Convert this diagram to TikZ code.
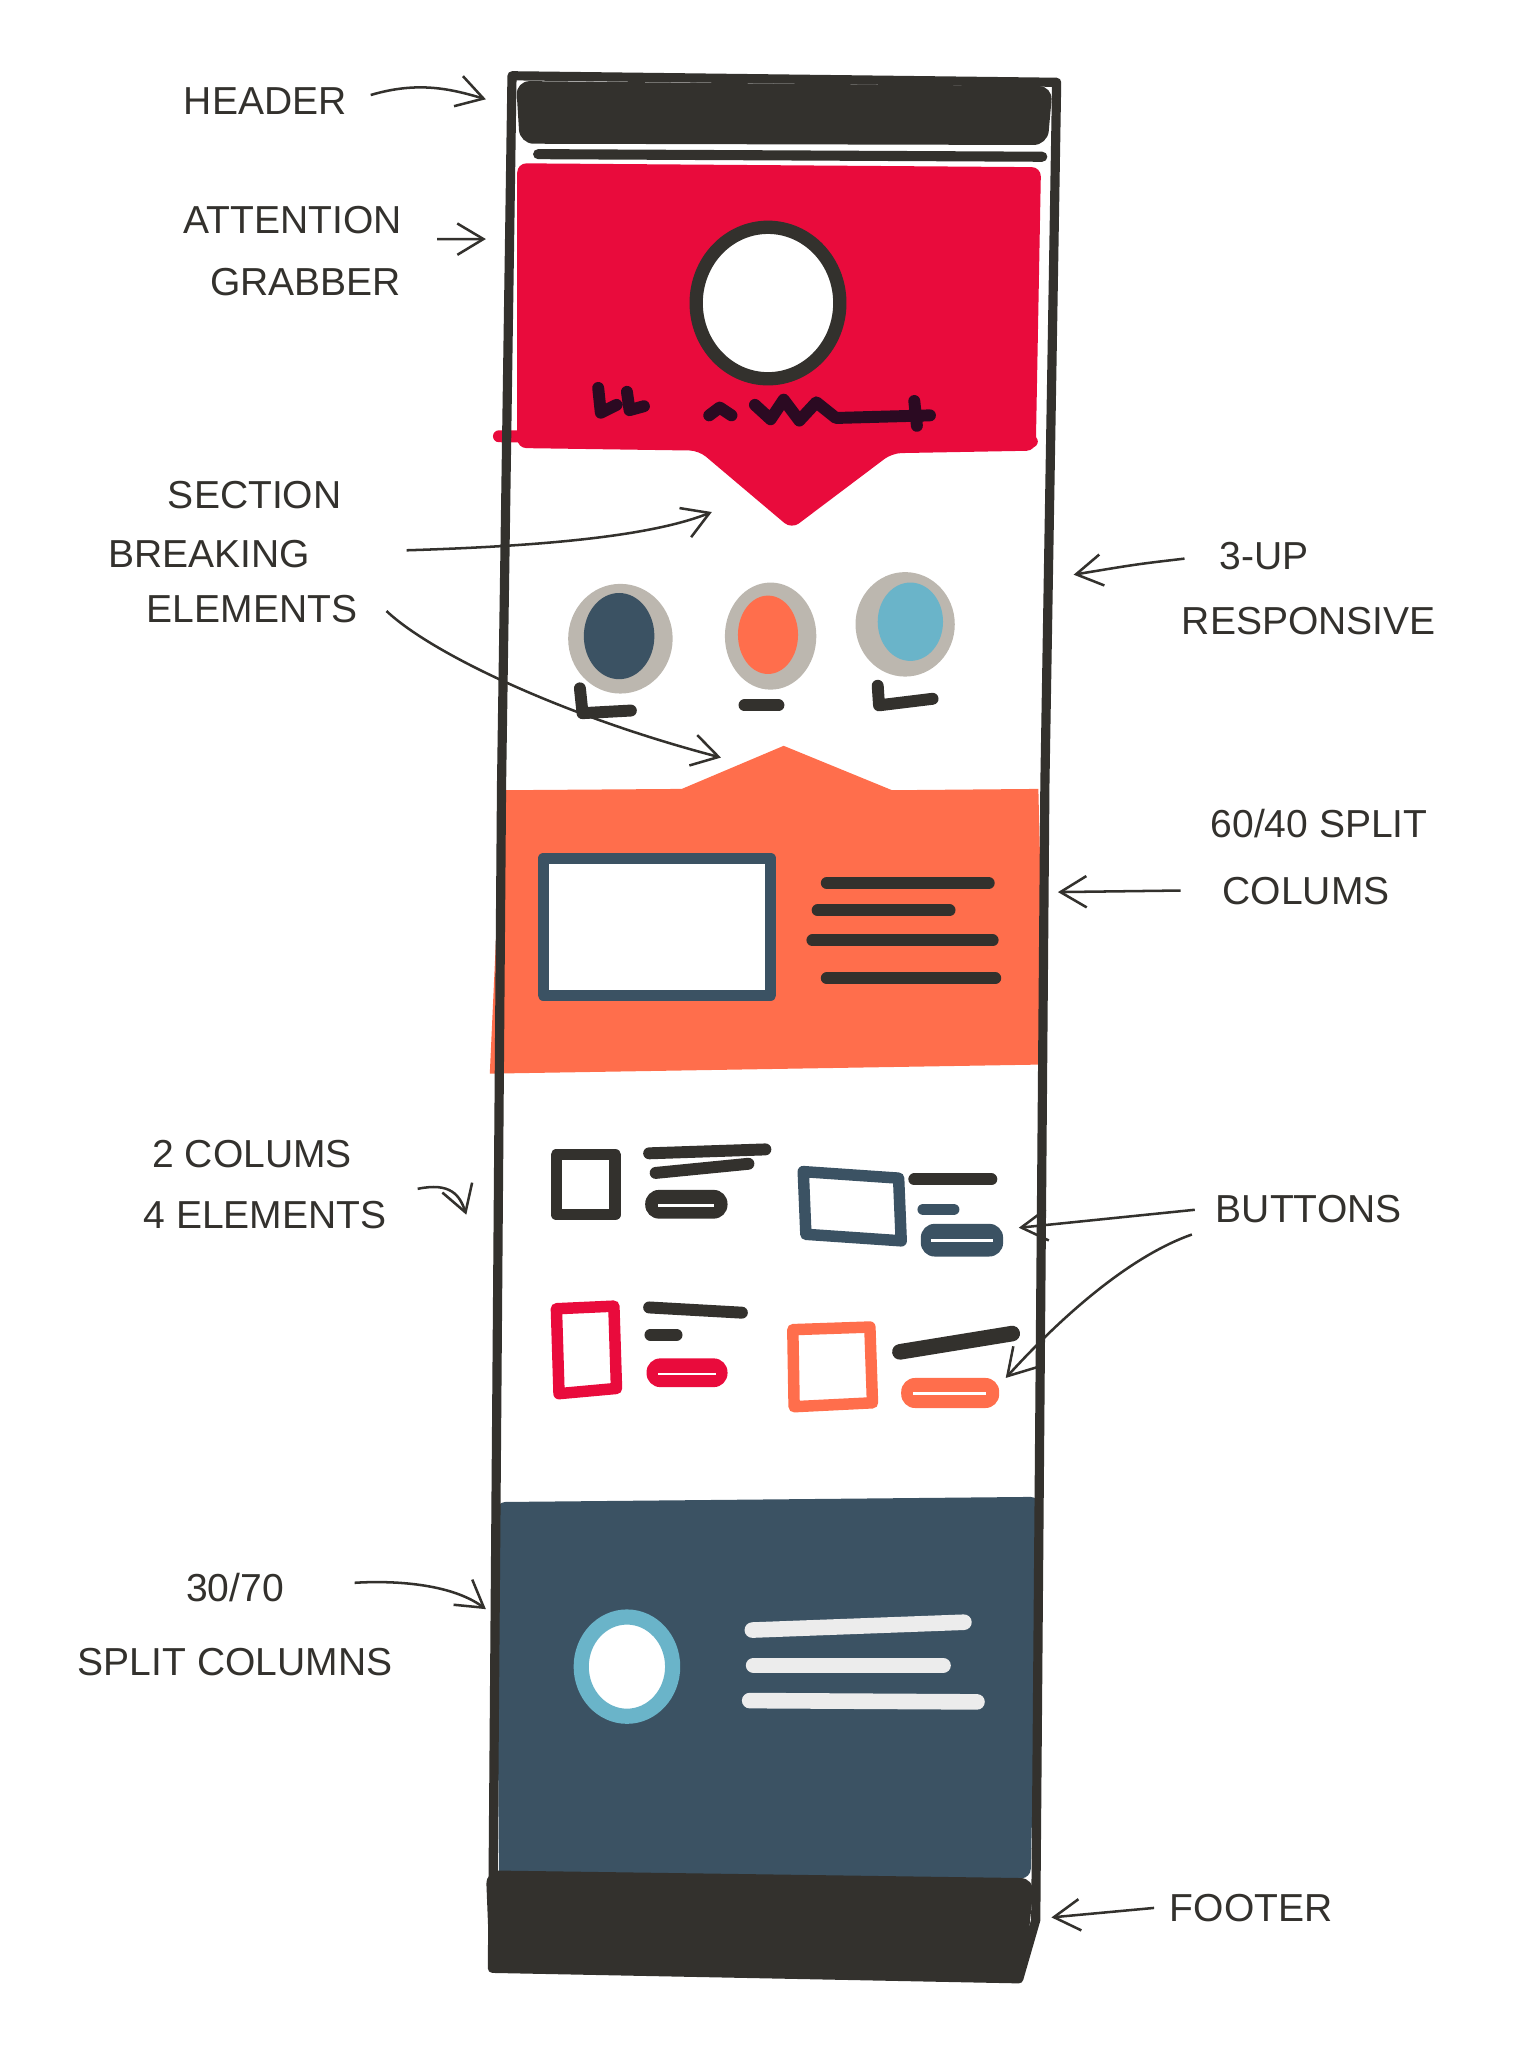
\documentclass[tikz,border=0pt]{standalone}
\usepackage{fontspec}
\setmainfont{Liberation Sans}
\usepackage{tikz}
\usetikzlibrary{positioning,arrows.meta}
\definecolor{cnegro}{HTML}{33312D}
\definecolor{crojo}{HTML}{E90B3C}
\definecolor{cnaranja}{HTML}{FF6E4C}
\definecolor{cazul}{HTML}{3B5263}
\definecolor{ccelest}{HTML}{6AB4C9}
\definecolor{cgris}{HTML}{BCB7AF}
\definecolor{cclaro}{HTML}{ECECEC}
\definecolor{cvino}{HTML}{2B0A22}
\tikzset{
  marco/.style={draw=cnegro, line width=2pt, line join=round, line cap=round},
  trazo/.style={line width=2.6pt, line cap=round, line join=round},
  caja/.style={line width=2.5pt, line join=round, fill=white},
  boton/.style={rounded corners=3pt},
  flecha/.style={-{Straight Barb[length=2mm,width=2.4mm]}, draw=cnegro, line width=0.55pt, shorten <=1.5mm},
  etq/.style={font=\fontsize{8.5}{10}\selectfont, text=cnegro, inner sep=1pt, text height=2.2mm, text depth=0mm},
}

\begin{document}
\begin{tikzpicture}[x=0.1mm, y=-0.1mm]
  \useasboundingbox (0,0) rectangle (1176,1568);

  % header y atencion
  \fill[cnegro, rounded corners=3pt] (395,62) -- (806,66) -- (802,111) -- (398,110) -- cycle;
  \draw[cnegro, line width=2.2pt, line cap=round] (412,118) -- (798,120);
  \fill[crojo, rounded corners=2pt] (396,125) -- (797,128) -- (793,345) -- (683,347) -- (606,405) -- (535,345) -- (396,343) -- cycle;
  \draw[crojo, line width=2.6pt, line cap=round] (382,334) -- (790,338);
  \draw[cnegro, caja, line width=2.9pt] (588,232) ellipse [x radius=55, y radius=58];
  \draw[cvino, trazo] (458,297) -- (460,316) -- (472,310) (480,300) -- (482,314) -- (493,311);
  \draw[cvino, trazo] (543,318) -- (551,312) -- (560,318);
  \draw[cvino, trazo] (578,310) -- (590,321) -- (600,306) -- (612,322) -- (625,308) -- (640,320) -- (712,318) (700,307) -- (702,326);

  % 3-up
  \fill[cgris] (475,489) ellipse [x radius=40, y radius=42];
  \fill[cazul] (474,487) ellipse [x radius=27, y radius=33];
  \fill[cgris] (590,487) ellipse [x radius=35, y radius=41];
  \fill[cnaranja] (588,486) ellipse [x radius=23, y radius=30];
  \fill[cgris] (693,478) ellipse [x radius=38, y radius=40];
  \fill[ccelest] (697,476) ellipse [x radius=25, y radius=30];
  \draw[cnegro, trazo] (444,527) -- (446,546) -- (483,544);
  \draw[cnegro, trazo] (570,540) -- (596,540);
  \draw[cnegro, trazo] (672,525) -- (673,540) -- (714,535);

  % 60/40
  \fill[cnaranja] (385,605) -- (522,604) -- (600,571) -- (683,605) -- (795,604) -- (800,815) -- (375,822) -- cycle;
  \draw[cazul, caja, line width=2.4pt] (416,657) rectangle (590,762);
  \draw[cnegro, trazo] (633,676) -- (757,676);
  \draw[cnegro, trazo] (626,697) -- (727,697);
  \draw[cnegro, trazo] (622,720) -- (760,720);
  \draw[cnegro, trazo] (633,749) -- (762,749);

  % 2 columnas
  \draw[cnegro, caja] (426,884) rectangle (471,930);
  \draw[cnegro, trazo] (497,883) -- (586,880);
  \draw[cnegro, trazo] (502,898) -- (573,891);
  \fill[cnegro, boton] (494,911) rectangle (557,933);
  \draw[white, line width=0.6pt] (504,923) -- (547,923);

  \draw[cazul, caja] (615,897) -- (688,902) -- (690,950) -- (617,945) -- cycle;
  \draw[cnegro, trazo] (700,903) -- (759,903);
  \draw[cazul, trazo] (707,926) -- (730,926);
  \fill[cazul, boton] (705,937) rectangle (768,962);
  \draw[white, line width=0.6pt] (713,950) -- (760,950);

  \draw[crojo, caja] (426,1002) -- (470,1000) -- (472,1063) -- (428,1067) -- cycle;
  \draw[cnegro, trazo] (497,1001) -- (568,1005);
  \draw[cnegro, trazo] (498,1022) -- (518,1022);
  \fill[crojo, boton] (495,1040) rectangle (557,1062);
  \draw[white, line width=0.6pt] (504,1052) -- (548,1052);

  \draw[cnaranja, caja] (607,1018) -- (666,1016) -- (668,1074) -- (608,1077) -- cycle;
  \draw[cnegro, trazo, line width=3.4pt] (689,1035) -- (775,1021);
  \fill[cnaranja, boton] (690,1055) rectangle (765,1078);
  \draw[white, line width=0.6pt] (699,1067) -- (755,1067);

  % 30/70
  \fill[cazul, rounded corners=2pt] (380,1150) -- (796,1146) -- (789,1438) -- (382,1440) -- cycle;
  \draw[ccelest, caja, line width=3.3pt] (480,1276) ellipse [x radius=35, y radius=38];
  \draw[cclaro, trazo, line width=3.4pt] (576,1248) -- (738,1242);
  \draw[cclaro, trazo, line width=3.4pt] (577,1275) -- (722,1275);
  \draw[cclaro, trazo, line width=3.4pt] (574,1302) -- (748,1303);

  % footer
  \fill[cnegro, rounded corners=3pt] (372,1432) -- (792,1438) -- (784,1515) -- (375,1508) -- cycle;

  \draw[marco] (392,58) -- (809,63) -- (800,600) -- (793,1470) -- (780,1515) -- (377,1507) -- (384,600) -- cycle;

  % etiquetas
  \node[etq] (header) at (203,77) {HEADER};
  \node[etq] (atencion) at (224,168) {ATTENTION};
  \node[etq, below=1.7mm of atencion, xshift=1mm] (grabber) {GRABBER};
  \node[etq] (seccion) at (195,378) {SECTION};
  \node[etq, below=1.5mm of seccion, xshift=-3.5mm] (breaking) {BREAKING};
  \node[etq, below=1.2mm of breaking, xshift=3.3mm] (elementos) {ELEMENTS};
  \node[etq] (tresup) at (968,425) {3-UP};
  \node[etq, below=1.9mm of tresup, xshift=3.4mm] (responsive) {RESPONSIVE};
  \node[etq] (split64) at (1010,630) {60/40 SPLIT};
  \node[etq, below=2.1mm of split64, xshift=-1mm] (colums) {COLUMS};
  \node[etq] (doscol) at (193,883) {2 COLUMS};
  \node[etq, below=1.6mm of doscol, xshift=1mm] (cuatro) {4 ELEMENTS};
  \node[etq] (botones) at (1002,925) {BUTTONS};
  \node[etq] (treinta) at (180,1215) {30/70};
  \node[etq, below=2.6mm of treinta] (splitcols) {SPLIT COLUMNS};
  \node[etq] (pie) at (958,1460) {FOOTER};

  \coordinate (pHeader) at (372,76);
  \coordinate (pRojo) at (372,183);
  \coordinate (pPico1) at (545,392);
  \coordinate (pPico2) at (552,580);
  \coordinate (pTres) at (822,440);
  \coordinate (pNaranja) at (810,683);
  \coordinate (pCols) at (357,930);
  \coordinate (pBoton1) at (780,940);
  \coordinate (pBoton2) at (770,1055);
  \coordinate (pAzul) at (372,1232);
  \coordinate (pPie) at (805,1468);

  \draw[flecha] (header.east) .. controls (320,62) and (345,68) .. (pHeader);
  \draw[flecha, shorten <=2.3mm] (atencion.south east) -- (pRojo);
  \draw[flecha, shorten <=7mm] (breaking.east) .. controls (420,418) and (500,410) .. (pPico1);
  \draw[flecha, shorten <=2.5mm] (elementos.north east) .. controls (330,500) and (430,548) .. (pPico2);
  \draw[flecha, shorten <=2.3mm] (tresup.west) .. controls (870,432) .. (pTres);
  \draw[flecha, shorten <=2.8mm] (colums.west) -- (pNaranja);
  \draw[flecha, shorten <=2mm] (cuatro.north east) .. controls (345,905) and (352,915) .. (pCols);
  \draw[flecha, shorten <=1.2mm] (botones.west) -- (pBoton1);
  \draw[flecha] (botones.south west) .. controls (870,960) and (820,1000) .. (pBoton2);
  \draw[flecha, shorten <=5mm] (treinta.east) .. controls (300,1210) and (345,1212) .. (pAzul);
  \draw[flecha, shorten <=0.8mm] (pie.west) -- (pPie);
\end{tikzpicture}
\end{document}
